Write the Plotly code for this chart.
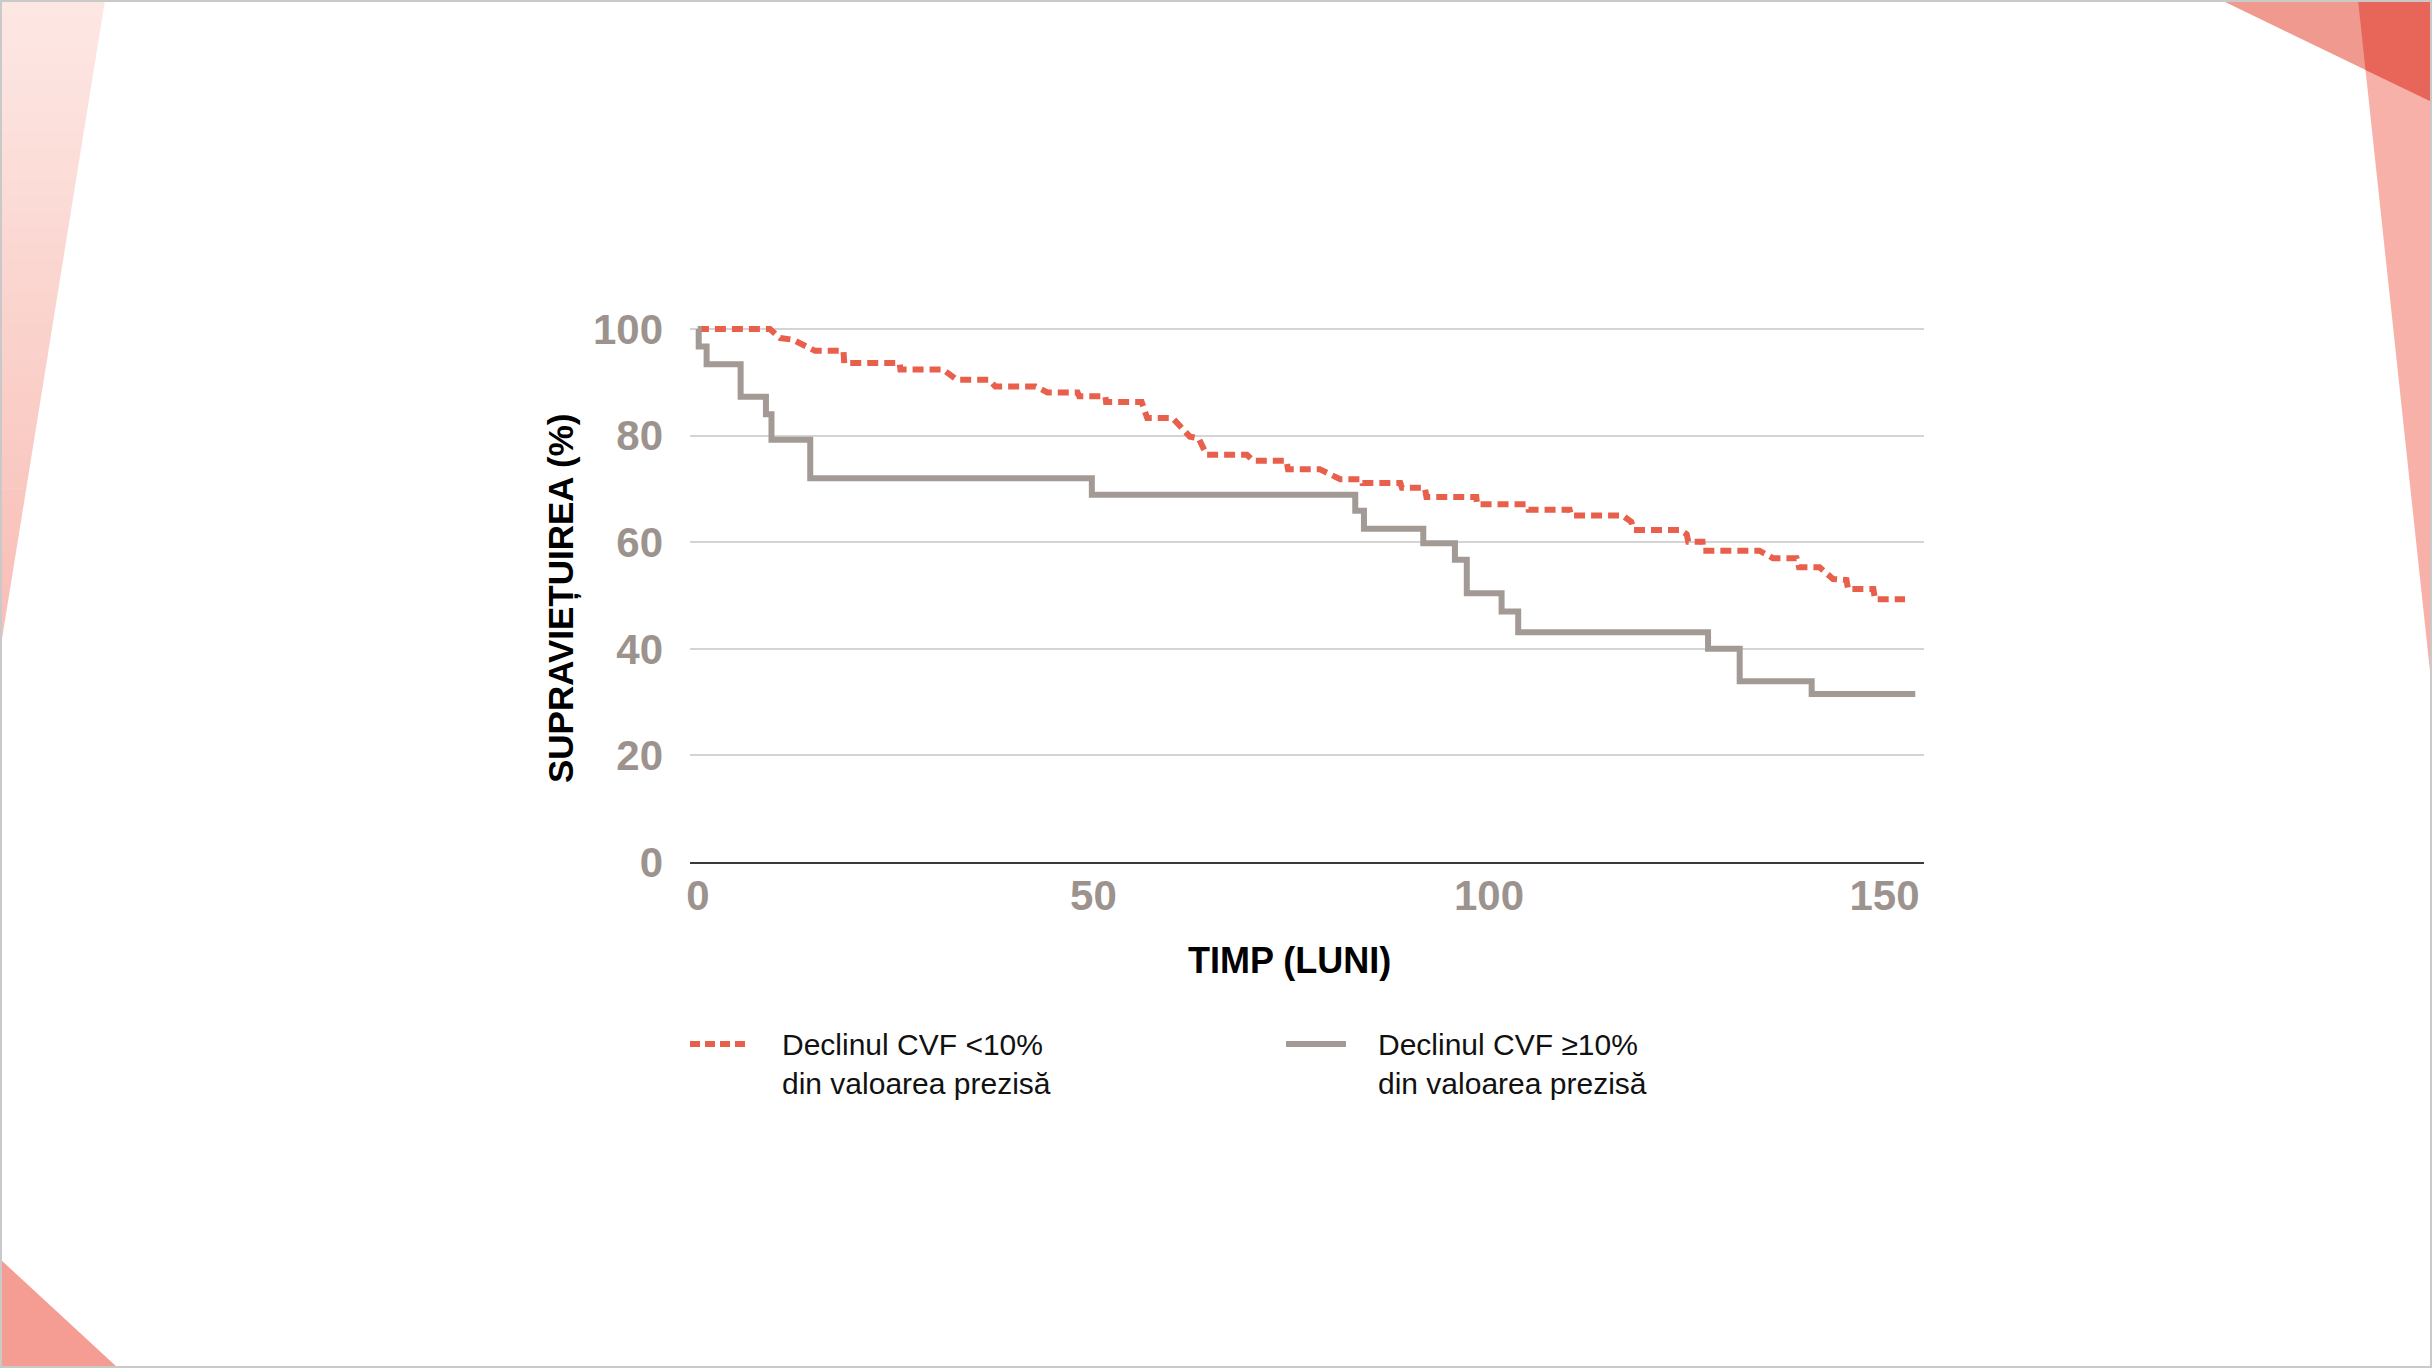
import plotly.graph_objects as go

# ---------------- data ----------------
# Declinul CVF <10% (dashed red) – Kaplan-Meier curve, vertices in (months, %)
low_t = [0, 9.1, 10.4, 12.0, 14.8, 18.4, 18.5, 25.5, 25.6, 31.0, 32.7, 36.8, 37.6, 42.7,
         44.2, 48.0, 48.2, 51.5, 51.6, 56.1, 56.8, 60.0, 62.2, 63.3, 64.3, 69.4, 70.2,
         74.4, 74.6, 78.6, 81.2, 83.9, 84.0, 88.8, 89.0, 91.9, 92.1, 98.4, 98.5, 104.8,
         105.0, 110.2, 110.4, 116.9, 118.0, 118.3, 124.2, 125.0, 125.2, 127.0, 127.1,
         134.2, 135.9, 138.9, 139.2, 141.8, 143.5, 145.2, 145.4, 148.6, 148.8, 152.6]
low_v = [100, 100, 98.3, 98.0, 95.9, 95.9, 93.6, 93.6, 92.4, 92.4, 90.5, 90.5, 89.2, 89.2,
         88.1, 88.1, 87.4, 87.4, 86.3, 86.3, 83.3, 83.3, 79.8, 79.5, 76.4, 76.4, 75.3,
         75.3, 73.7, 73.7, 71.8, 71.8, 71.1, 71.1, 70.2, 70.2, 68.5, 68.5, 67.1, 67.1,
         66.1, 66.1, 65.0, 65.0, 63.8, 62.3, 62.3, 61.5, 60.1, 60.1, 58.4,
         58.4, 57.0, 57.0, 55.3, 55.3, 53.1, 52.9, 51.2, 51.2, 49.3, 49.3]

# Declinul CVF >=10% (solid grey) – step function (value holds until next time)
high_t = [0, 0.1, 1.1, 5.4, 8.6, 9.3, 14.2, 49.8, 83.1, 84.2, 91.7, 95.7, 97.2, 101.6,
          103.7, 127.7, 131.7, 140.8, 153.9]
high_v = [100, 96.7, 93.4, 87.3, 84.0, 79.2, 72.0, 68.9, 65.9, 62.5, 59.8, 56.7, 50.4, 47.0,
          43.1, 40.0, 33.9, 31.5, 31.5]

x_ticks = [0, 50, 100, 150]
y_ticks = [0, 20, 40, 60, 80, 100]

label_low = "Declinul CVF &lt;10%<br>din valoarea prezisă"
label_high = "Declinul CVF ≥10%<br>din valoarea prezisă"
x_title = "TIMP (LUNI)"
y_title = "SUPRAVIEȚUIREA (%)"

RED = "#e8604c"
GREY = "#a39a95"
TICK = "#9d938e"
FONT = "Liberation Sans"

W, H = 2432, 1368
L, R, T, B = 690, 1924, 321, 862  # plot area in pixels


def px(x):
    return (x - L) / (R - L)


def py(y):
    return (B - y) / (B - T)


fig = go.Figure()
fig.add_trace(go.Scatter(x=low_t, y=low_v, mode="lines", name=label_low,
                         line=dict(color=RED, width=6, dash="11px,6px"),
                         showlegend=False))
fig.add_trace(go.Scatter(x=high_t, y=high_v, mode="lines", name=label_high,
                         line=dict(color=GREY, width=6, shape="hv"),
                         showlegend=False))

shapes = []


def poly(points, color, opacity=1.0):
    path = "M " + " L ".join(f"{px(a):.5f},{py(b):.5f}" for a, b in points) + " Z"
    return dict(type="path", xref="paper", yref="paper", path=path,
                fillcolor=color, line=dict(width=0), opacity=opacity, layer="below")


def mix(c1, c2, f):
    a = [int(c1[i:i + 2], 16) for i in (1, 3, 5)]
    b = [int(c2[i:i + 2], 16) for i in (1, 3, 5)]
    return "#" + "".join(f"{round(a[k] + (b[k] - a[k]) * f):02x}" for k in range(3))


# top-left gradient wedge (approximated by thin bands)
n = 40
for i in range(n):
    y0 = 651 * i / n
    y1 = 651 * (i + 1) / n
    x0 = 105 * (1 - y0 / 651)
    x1 = 105 * (1 - y1 / 651)
    c = mix("#fde8e4", "#f8bdb5", (i + 0.5) / n)
    shapes.append(poly([(0, y0), (x0, y0), (x1, y1 + 0.6), (0, y1 + 0.6)], c))
# bottom-left triangle
shapes.append(poly([(0, 1259), (118, H), (0, H)], "#f69d93"))
# right band, top-right triangle, overlap
shapes.append(poly([(2358, 0), (W, 0), (W, 690)], "#f7b1a9"))
shapes.append(poly([(2221, 0), (W, 0), (W, 102)], "#f09a8f"))
shapes.append(poly([(2358, 0), (W, 0), (W, 102), (2365.5, 70)], "#e8655a"))
# outer border
shapes.append(dict(type="rect", xref="paper", yref="paper", x0=px(1), x1=px(W - 1),
                   y0=py(1), y1=py(H - 1), line=dict(color="#c9c9c9", width=2),
                   layer="below"))
# legend samples
shapes.append(dict(type="line", xref="paper", yref="paper", x0=px(690), x1=px(749),
                   y0=py(1044), y1=py(1044), line=dict(color=RED, width=6, dash="10px,5px")))
shapes.append(dict(type="line", xref="paper", yref="paper", x0=px(1286), x1=px(1346),
                   y0=py(1044), y1=py(1044), line=dict(color=GREY, width=6)))

annotations = [
    dict(xref="paper", yref="paper", x=px(780), y=py(1064), text=label_low,
         xanchor="left", yanchor="middle", align="left", showarrow=False,
         font=dict(family=FONT, size=30, color="#111111")),
    dict(xref="paper", yref="paper", x=px(1376), y=py(1064), text=label_high,
         xanchor="left", yanchor="middle", align="left", showarrow=False,
         font=dict(family=FONT, size=30, color="#111111")),
    dict(xref="paper", yref="paper", x=px(1289), y=py(960), text=f"<b>{x_title}</b>",
         xanchor="center", yanchor="middle", showarrow=False,
         font=dict(family=FONT, size=36, color="#000000")),
    dict(xref="paper", yref="paper", x=px(561), y=py(599), text=f"<b>{y_title}</b>",
         textangle=-90, xanchor="center", yanchor="middle", showarrow=False,
         font=dict(family=FONT, size=35, color="#000000")),
]

fig.update_layout(
    width=W, height=H,
    margin=dict(l=L, r=W - R, t=T, b=H - B, pad=0),
    paper_bgcolor="white", plot_bgcolor="white",
    shapes=shapes, annotations=annotations,
    font=dict(family=FONT),
)
fig.update_xaxes(range=[-1, 155], tickvals=x_ticks, ticktext=[f"<b>{v}</b>" for v in x_ticks],
                 showgrid=False, zeroline=False, showline=True, linecolor="#3a3a3a",
                 linewidth=2, ticks="", ticklabelstandoff=-4,
                 tickfont=dict(family=FONT, size=42, color=TICK))
fig.update_yaxes(range=[0, 101.5], tickvals=y_ticks, ticktext=[f"<b>{v}</b>" for v in y_ticks],
                 showgrid=True, gridcolor="#d4d4d4", gridwidth=2, zeroline=False,
                 showline=False, ticks="", ticklabelstandoff=26,
                 tickfont=dict(family=FONT, size=42, color=TICK))

fig.write_html("out.html", config={"displayModeBar": False},
               post_script="document.body.style.margin='0';document.body.style.overflow='hidden';")
